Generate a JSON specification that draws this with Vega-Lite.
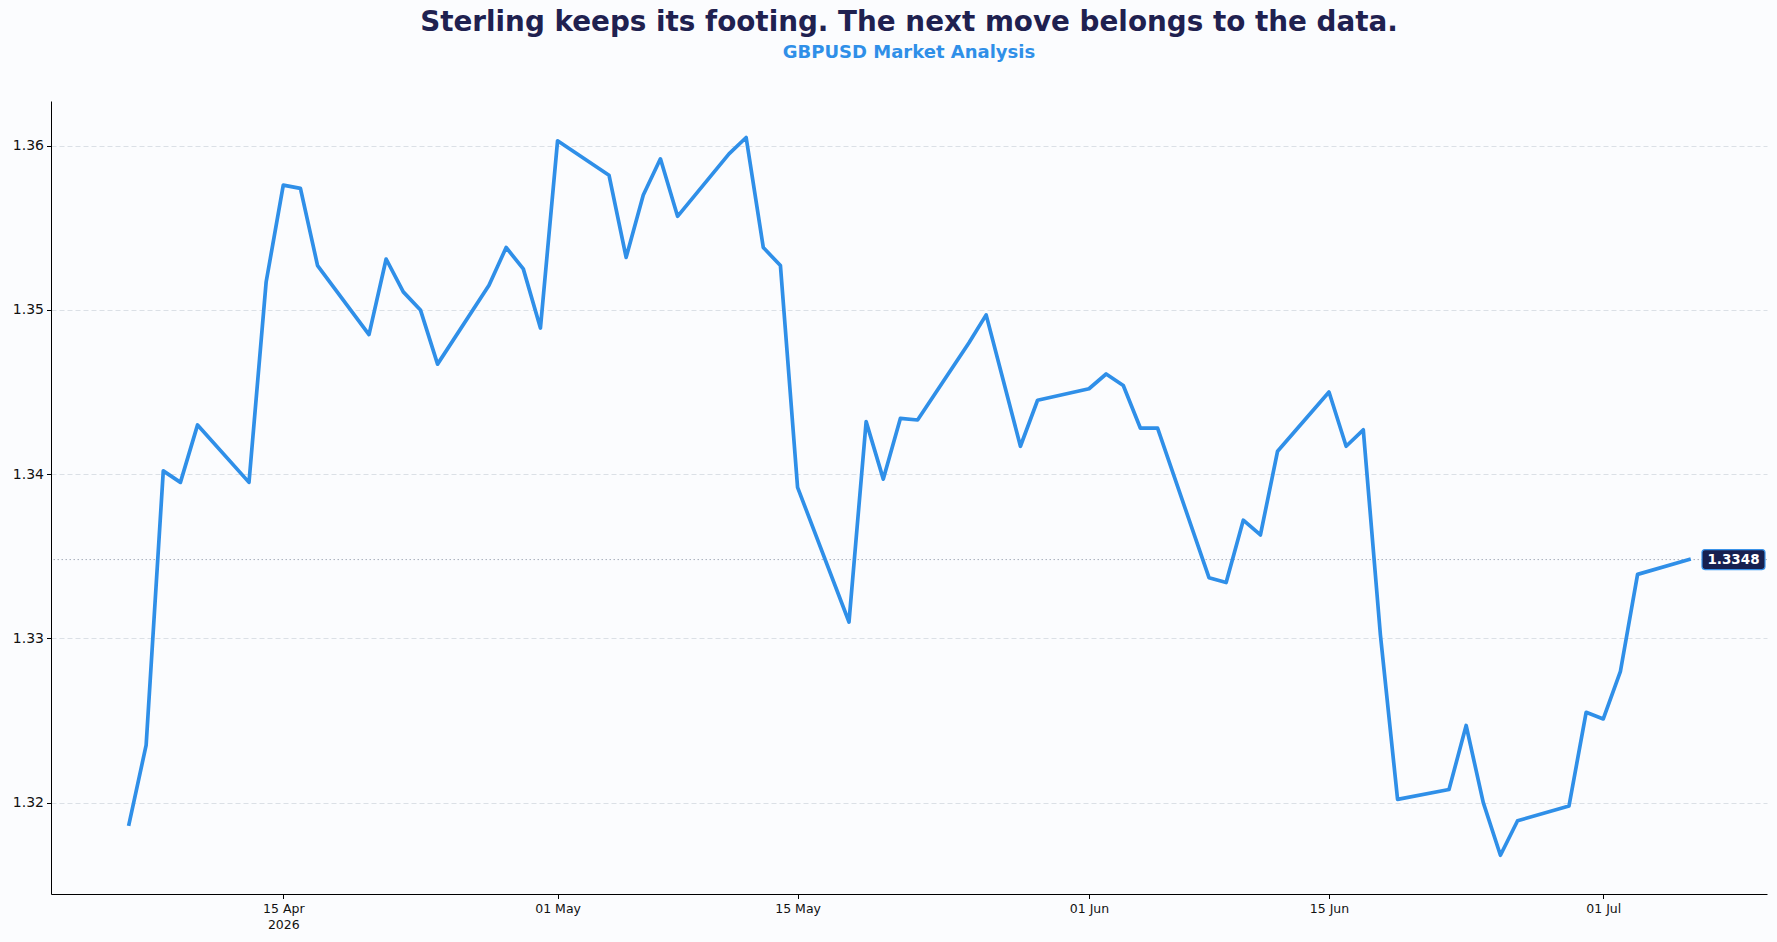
{
  "$schema": "https://vega.github.io/schema/vega-lite/v6.json",
  "width": 1716,
  "height": 793,
  "autosize": "none",
  "padding": {"left": 51, "top": 101, "right": 10, "bottom": 48},
  "background": "#fbfcfe",
  "title": {
    "text": "Sterling keeps its footing. The next move belongs to the data.",
    "subtitle": "GBPUSD Market Analysis",
    "anchor": "middle",
    "font": "DejaVu Sans",
    "fontSize": 27.8,
    "fontWeight": "bold",
    "color": "#1f2150",
    "subtitleFont": "DejaVu Sans",
    "subtitleFontSize": 18,
    "subtitleFontWeight": "bold",
    "subtitleColor": "#2f8fe8",
    "subtitlePadding": 7,
    "offset": 39
  },
  "config": {
    "view": {"stroke": null},
    "axis": {
      "domainColor": "#000000",
      "domainWidth": 1,
      "tickColor": "#000000",
      "tickSize": 4.5,
      "tickWidth": 1,
      "labelFont": "DejaVu Sans",
      "labelFontSize": 12.5,
      "labelColor": "#111111",
      "title": null
    }
  },
  "data": {
    "values": [
      {"date": "2026-04-06", "price": 1.3187},
      {"date": "2026-04-07", "price": 1.3235},
      {"date": "2026-04-08", "price": 1.3402},
      {"date": "2026-04-09", "price": 1.3395},
      {"date": "2026-04-10", "price": 1.3430},
      {"date": "2026-04-13", "price": 1.3395},
      {"date": "2026-04-14", "price": 1.3517},
      {"date": "2026-04-15", "price": 1.3576},
      {"date": "2026-04-16", "price": 1.3574},
      {"date": "2026-04-17", "price": 1.3527},
      {"date": "2026-04-20", "price": 1.3485},
      {"date": "2026-04-21", "price": 1.3531},
      {"date": "2026-04-22", "price": 1.3511},
      {"date": "2026-04-23", "price": 1.3500},
      {"date": "2026-04-24", "price": 1.3467},
      {"date": "2026-04-27", "price": 1.3515},
      {"date": "2026-04-28", "price": 1.3538},
      {"date": "2026-04-29", "price": 1.3525},
      {"date": "2026-04-30", "price": 1.3489},
      {"date": "2026-05-01", "price": 1.3603},
      {"date": "2026-05-04", "price": 1.3582},
      {"date": "2026-05-05", "price": 1.3532},
      {"date": "2026-05-06", "price": 1.3570},
      {"date": "2026-05-07", "price": 1.3592},
      {"date": "2026-05-08", "price": 1.3557},
      {"date": "2026-05-11", "price": 1.3595},
      {"date": "2026-05-12", "price": 1.3605},
      {"date": "2026-05-13", "price": 1.3538},
      {"date": "2026-05-14", "price": 1.3527},
      {"date": "2026-05-15", "price": 1.3392},
      {"date": "2026-05-18", "price": 1.3310},
      {"date": "2026-05-19", "price": 1.3432},
      {"date": "2026-05-20", "price": 1.3397},
      {"date": "2026-05-21", "price": 1.3434},
      {"date": "2026-05-22", "price": 1.3433},
      {"date": "2026-05-25", "price": 1.3480},
      {"date": "2026-05-26", "price": 1.3497},
      {"date": "2026-05-27", "price": 1.3457},
      {"date": "2026-05-28", "price": 1.3417},
      {"date": "2026-05-29", "price": 1.3445},
      {"date": "2026-06-01", "price": 1.3452},
      {"date": "2026-06-02", "price": 1.3461},
      {"date": "2026-06-03", "price": 1.3454},
      {"date": "2026-06-04", "price": 1.3428},
      {"date": "2026-06-05", "price": 1.3428},
      {"date": "2026-06-08", "price": 1.3337},
      {"date": "2026-06-09", "price": 1.3334},
      {"date": "2026-06-10", "price": 1.3372},
      {"date": "2026-06-11", "price": 1.3363},
      {"date": "2026-06-12", "price": 1.3414},
      {"date": "2026-06-15", "price": 1.3450},
      {"date": "2026-06-16", "price": 1.3417},
      {"date": "2026-06-17", "price": 1.3427},
      {"date": "2026-06-18", "price": 1.3302},
      {"date": "2026-06-19", "price": 1.3202},
      {"date": "2026-06-22", "price": 1.3208},
      {"date": "2026-06-23", "price": 1.3247},
      {"date": "2026-06-24", "price": 1.3200},
      {"date": "2026-06-25", "price": 1.3168},
      {"date": "2026-06-26", "price": 1.3189},
      {"date": "2026-06-29", "price": 1.3198},
      {"date": "2026-06-30", "price": 1.3255},
      {"date": "2026-07-01", "price": 1.3251},
      {"date": "2026-07-02", "price": 1.3280},
      {"date": "2026-07-03", "price": 1.3339},
      {"date": "2026-07-06", "price": 1.3348}
    ]
  },
  "encoding": {
    "x": {
      "field": "date",
      "type": "temporal",
      "scale": {
        "type": "utc",
        "domain": [
          {"year": 2026, "month": 4, "date": 1, "hours": 10, "minutes": 48, "utc": true},
          {"year": 2026, "month": 7, "date": 10, "hours": 13, "minutes": 12, "utc": true}
        ]
      },
      "axis": {
        "grid": false,
        "labelPadding": 4,
        "labelLineHeight": 16,
        "values": [
          {"year": 2026, "month": 4, "date": 15, "utc": true},
          {"year": 2026, "month": 5, "date": 1, "utc": true},
          {"year": 2026, "month": 5, "date": 15, "utc": true},
          {"year": 2026, "month": 6, "date": 1, "utc": true},
          {"year": 2026, "month": 6, "date": 15, "utc": true},
          {"year": 2026, "month": 7, "date": 1, "utc": true}
        ],
        "labelExpr": "utcmonth(datum.value) == 3 ? [utcFormat(datum.value, '%d %b'), '2026'] : utcFormat(datum.value, '%d %b')"
      }
    },
    "y": {
      "field": "price",
      "type": "quantitative",
      "scale": {"domain": [1.31444, 1.36272], "zero": false, "nice": false},
      "axis": {
        "values": [1.32, 1.33, 1.34, 1.35, 1.36],
        "format": ".2f",
        "grid": true,
        "gridColor": "#d3d8e0",
        "gridDash": [5, 3],
        "gridWidth": 0.8,
        "labelFontSize": 14,
        "labelPadding": 3
      }
    }
  },
  "layer": [
    {
      "data": {"values": [{"last": 1.3348}]},
      "mark": {"type": "rule", "color": "#a7aebb", "strokeWidth": 1, "strokeDash": [1.5, 2.5]},
      "encoding": {
        "x": null,
        "y": {"field": "last", "type": "quantitative"}
      }
    },
    {
      "mark": {
        "type": "line",
        "color": "#2f8fe8",
        "strokeWidth": 3.7,
        "strokeJoin": "round",
        "strokeCap": "square"
      }
    },
    {
      "transform": [{"filter": "utcmonth(datum.date) == 6 && utcdate(datum.date) == 6"}],
      "mark": {
        "type": "rect",
        "fill": "#17204f",
        "stroke": "#3a93ea",
        "strokeWidth": 1.2,
        "cornerRadius": 3,
        "xOffset": 13,
        "x2Offset": 76,
        "yOffset": -10,
        "y2Offset": 10
      },
      "encoding": {
        "x2": {"field": "date"},
        "y2": {"field": "price"}
      }
    },
    {
      "transform": [{"filter": "utcmonth(datum.date) == 6 && utcdate(datum.date) == 6"}],
      "mark": {
        "type": "text",
        "dx": 44.5,
        "align": "center",
        "baseline": "middle",
        "font": "DejaVu Sans",
        "fontSize": 13.5,
        "fontWeight": "bold",
        "color": "#ffffff"
      },
      "encoding": {
        "text": {"field": "price", "type": "quantitative", "format": ".4f"}
      }
    }
  ]
}
